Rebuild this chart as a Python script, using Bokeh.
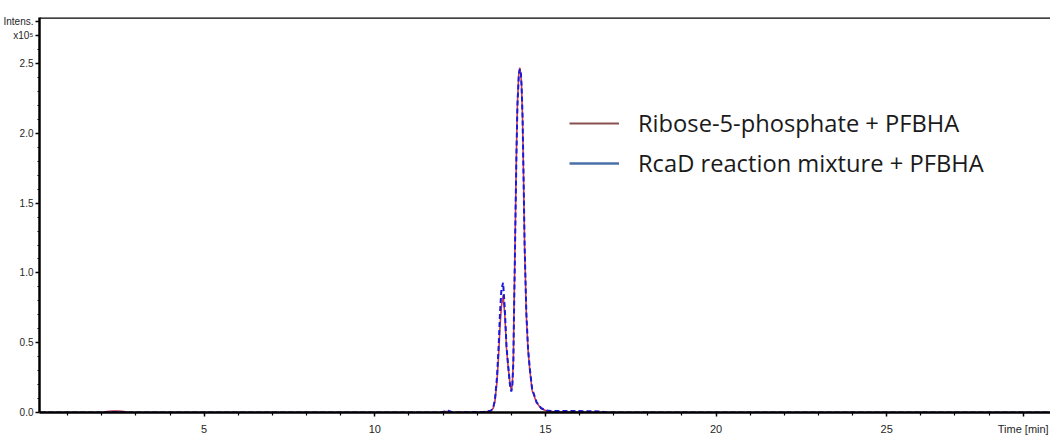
from bokeh.plotting import figure
from bokeh.models import (FixedTicker, PrintfTickFormatter, Span,
                          Legend, LegendItem, Range1d)
from bokeh.embed import file_html
from bokeh.resources import INLINE

# ---- data (intensity in units of 1e5) ----
time_min = [0.2, 2.0, 2.15, 2.3, 2.5, 2.65, 2.8, 11.9, 12.05, 12.15, 12.3, 13.2, 13.4,
            13.47, 13.52, 13.58, 13.63, 13.67, 13.71, 13.76, 13.81, 13.86, 13.91, 13.96,
            14.0, 14.03, 14.06, 14.08, 14.10, 14.12, 14.15, 14.18, 14.22, 14.25, 14.28,
            14.30, 14.33, 14.36, 14.39, 14.44, 14.49, 14.54, 14.61, 14.74, 14.88, 15.08,
            15.3, 16.0, 16.6, 16.8, 29.8]
ribose_intens = [0, 0, 0.006, 0.01, 0.01, 0.006, 0, 0, 0.005, 0.008, 0, 0.003, 0.01,
                 0.03, 0.08, 0.22, 0.42, 0.62, 0.76, 0.84, 0.70, 0.46, 0.32, 0.21,
                 0.16, 0.20, 0.38, 0.75, 1.05, 1.38, 1.86, 2.22, 2.43, 2.47, 2.42,
                 2.34, 2.10, 1.66, 1.18, 0.70, 0.45, 0.31, 0.16, 0.07, 0.027, 0.008,
                 0.005, 0.004, 0.002, 0, 0]
rcad_intens = [0, 0, 0.002, 0.004, 0.004, 0.002, 0, 0, 0.008, 0.012, 0, 0.005, 0.012,
               0.035, 0.09, 0.25, 0.48, 0.72, 0.88, 0.93, 0.74, 0.47, 0.33, 0.20,
               0.15, 0.19, 0.36, 0.72, 1.02, 1.36, 1.84, 2.20, 2.42, 2.46, 2.43,
               2.35, 2.12, 1.68, 1.20, 0.72, 0.46, 0.32, 0.17, 0.075, 0.03, 0.012,
               0.01, 0.01, 0.008, 0, 0]
series_names = ["Ribose-5-phosphate + PFBHA", "RcaD reaction mixture + PFBHA"]

# ticks; the axis captions sit on the outermost tick slots, as in the instrument printout
x_major_ticks = [5, 10, 15, 20, 25, 29]
x_minor_ticks = [1, 2, 3, 4, 6, 7, 8, 9, 11, 12, 13, 14, 16, 17, 18, 19,
                 21, 22, 23, 24, 26, 27, 28]
x_caption = {29: "Time [min]"}
y_major_ticks = [0.0, 0.5, 1.0, 1.5, 2.0, 2.5, 2.7, 2.8]
y_minor_ticks = [0.1, 0.2, 0.3, 0.4, 0.6, 0.7, 0.8, 0.9, 1.1, 1.2, 1.3, 1.4,
                 1.6, 1.7, 1.8, 1.9, 2.1, 2.2, 2.3, 2.4, 2.6]
y_caption = {2.7: "x10⁵", 2.8: "Intens."}

x_min, x_max = 0.175, 29.8
y_min, y_max = 0.0, 2.83

p = figure(width=1050, height=437, output_backend="svg", toolbar_location=None,
           x_range=Range1d(x_min, x_max), y_range=Range1d(y_min, y_max),
           min_border_left=37, min_border_top=17, min_border_bottom=24, min_border_right=0)
p.outline_line_color = None
p.grid.visible = False
p.background_fill_color = "white"

# traces
p.line(time_min, ribose_intens, line_color="#c43c5c", line_width=1.6)
p.line(time_min, rcad_intens, line_color="#1a1ad8", line_width=2, line_dash="5 3")

# axes styling
lab_font = "Liberation Sans"
lab_color = "#262626"
xa = p.xaxis[0]
xa.ticker = FixedTicker(ticks=x_major_ticks, minor_ticks=x_minor_ticks)
xa.major_label_overrides = x_caption
xa.axis_line_width = 2.5
xa.axis_line_color = "black"
xa.major_tick_out = 4
xa.major_tick_in = 0
xa.minor_tick_out = 3
xa.minor_tick_in = 0
xa.major_tick_line_width = 1.5
xa.minor_tick_line_width = 1.2
xa.major_label_standoff = 6
xa.major_label_text_font = lab_font
xa.major_label_text_font_size = "11px"
xa.major_label_text_color = lab_color

ya = p.yaxis[0]
ya.ticker = FixedTicker(ticks=y_major_ticks, minor_ticks=y_minor_ticks)
ya.formatter = PrintfTickFormatter(format="%.1f")
ya.major_label_overrides = y_caption
ya.axis_line_width = 2.5
ya.axis_line_color = "black"
ya.major_tick_out = 4
ya.major_tick_in = 0
ya.minor_tick_out = 2
ya.minor_tick_in = 0
ya.major_tick_line_width = 1.5
ya.minor_tick_line_width = 1.2
ya.major_label_standoff = 2
ya.major_label_text_font = lab_font
ya.major_label_text_font_size = "10px"
ya.major_label_text_color = lab_color

# top border
p.add_layout(Span(location=y_max, dimension="width", line_color="black", line_width=2.5))

# legend with its own swatch colours
nan = float("nan")
r1 = p.line(x=[nan], y=[nan], line_color="#8a5050", line_width=2)
r2 = p.line(x=[nan], y=[nan], line_color="#4a70a8", line_width=2.5)
legend = Legend(items=[LegendItem(label=series_names[0], renderers=[r1]),
                       LegendItem(label=series_names[1], renderers=[r2])],
                location=(530, 233), orientation="vertical",
                glyph_width=50, glyph_height=32, label_height=32, label_standoff=19,
                spacing=8, padding=0, margin=0,
                label_text_font="Open Sans", label_text_font_size="23.7px",
                label_text_color="#1a1a1a",
                border_line_color=None, background_fill_alpha=0)
p.add_layout(legend)

open("out.html", "w").write(file_html(p, INLINE))
